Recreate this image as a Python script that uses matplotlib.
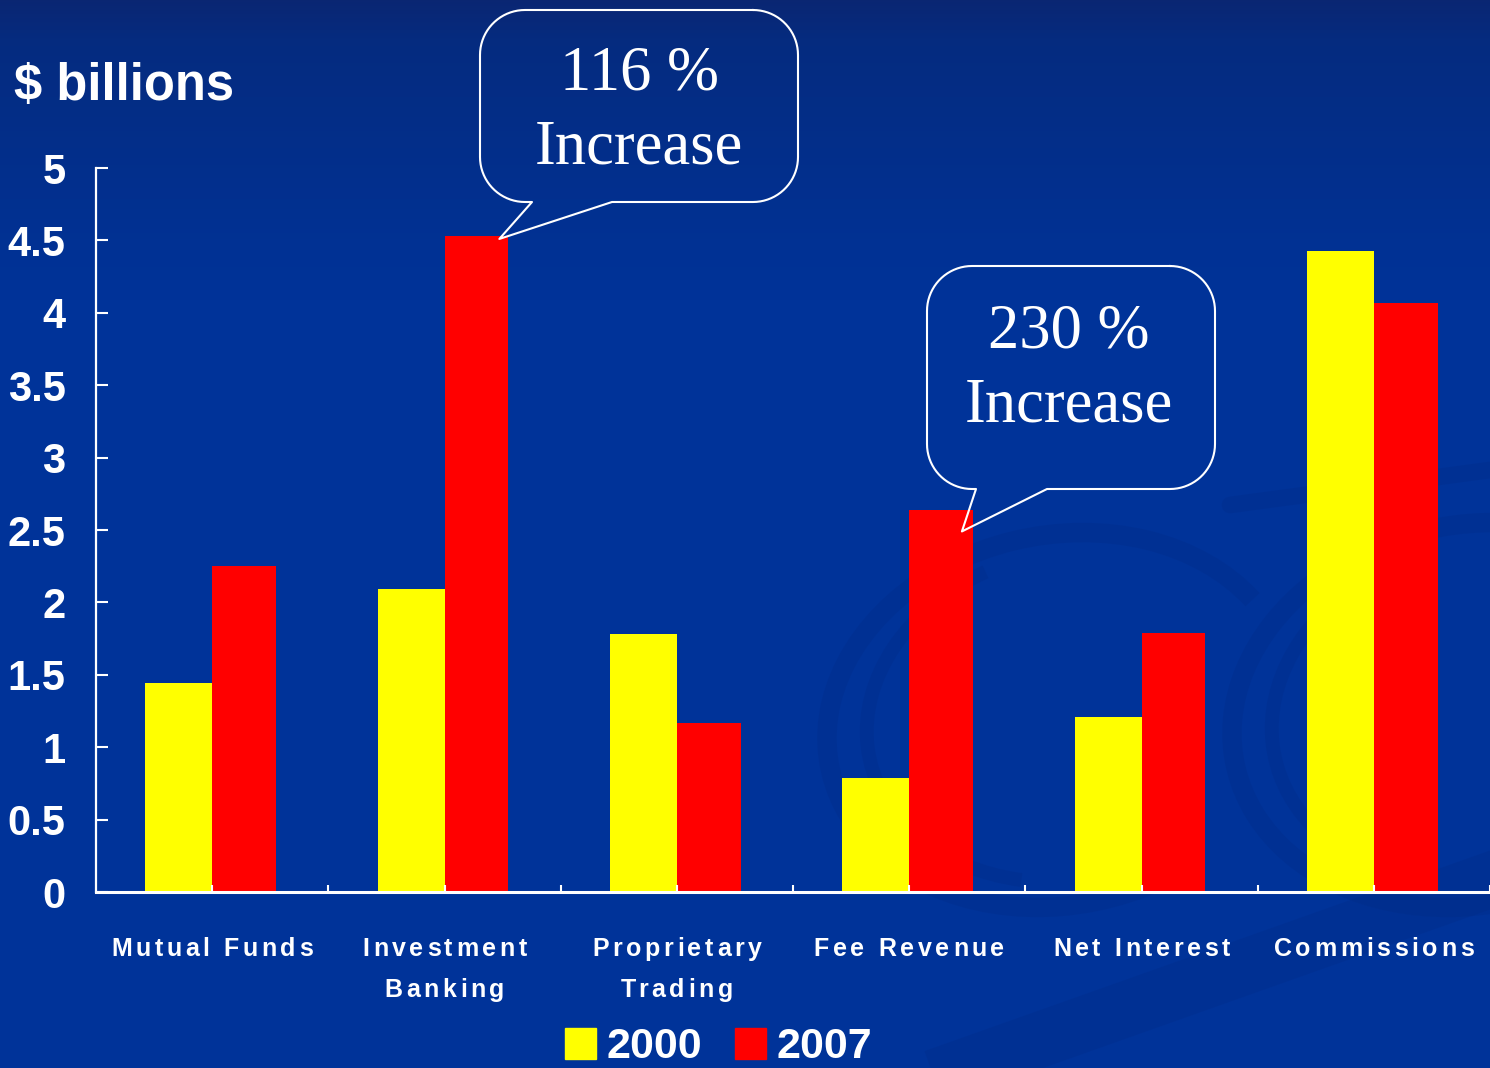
import numpy as np
import matplotlib.pyplot as plt
from matplotlib.patches import Arc, Rectangle
from matplotlib.font_manager import FontProperties
from matplotlib.transforms import IdentityTransform

# revenue by business line, $ billions
categories = ["Mutual Funds", "Investment\nBanking", "Proprietary\nTrading",
              "Fee Revenue", "Net Interest", "Commissions"]
rev_2000 = [1.44, 2.09, 1.78, 0.79, 1.21, 4.43]
rev_2007 = [2.25, 4.53, 1.17, 2.64, 1.79, 4.07]
years = ["2000", "2007"]
callout_text = [("116 %", "Increase"), ("230 %", "Increase")]

W, H = 1490, 1068
fig = plt.figure(figsize=(W / 100, H / 100), dpi=100)

# background: navy gradient + faint swirls
bg = fig.add_axes([0, 0, 1, 1], zorder=0)
bg.set_xlim(0, W)
bg.set_ylim(H, 0)
bg.axis("off")
rows = np.arange(H)
r = np.interp(rows, [0, 40, 300, H], [0.04, 0.02, 0.0, 0.0])
g = np.interp(rows, [0, 40, 300, H], [0.15, 0.17, 0.20, 0.20])
b = np.interp(rows, [0, 40, 300, H], [0.45, 0.50, 0.60, 0.60])
img = np.dstack([np.tile(c[:, None], (1, 2)) for c in (r, g, b)])
bg.imshow(img, extent=[0, W, H, 0], aspect="auto")

swirl = dict(color=(0.0, 0.15, 0.48), alpha=0.18)
bg.add_patch(Arc((1060, 720), 470, 370, angle=-12, theta1=60, theta2=340, lw=14, **swirl))
bg.add_patch(Arc((1075, 715), 420, 330, angle=-12, theta1=120, theta2=250, lw=10, **swirl))
bg.add_patch(Arc((1470, 715), 480, 380, angle=-12, theta1=70, theta2=320, lw=14, **swirl))
bg.add_patch(Arc((1485, 712), 430, 340, angle=-12, theta1=130, theta2=240, lw=10, **swirl))
bg.plot([1230, 1490], [505, 470], lw=12, solid_capstyle="round", **swirl)
bg.plot([960, 1490], [1068, 880], lw=40, **swirl)

# bars
step = 233.4
ax = fig.add_axes([96 / W, (H - 892) / H, (W - 96) / W, (892 - 168) / H], zorder=1)
ax.patch.set_alpha(0)
x = np.arange(len(categories))
b00 = ax.bar(x, rev_2000, width=-0.288, align="edge", color="#ffff00", label=years[0])
b07 = ax.bar(x, rev_2007, width=0.275, align="edge", color="#ff0000", label=years[1])
ax.set_xlim(-0.5, -0.5 + (W - 96) / step)
ax.set_ylim(0, 5)

for s in ["top", "right"]:
    ax.spines[s].set_visible(False)
ax.spines["left"].set_color("white")
ax.spines["left"].set_linewidth(1.6)
ax.spines["bottom"].set_color("white")
ax.spines["bottom"].set_linewidth(2.2)

yt = np.arange(0, 5.01, 0.5)
ax.set_yticks(yt)
ax.set_yticklabels(["%g" % v for v in yt], fontfamily="Liberation Sans", fontweight="bold")
ax.tick_params(axis="y", direction="in", length=8.6, width=1.5, colors="white",
               labelsize=30, pad=22)
ax.set_xticks(np.arange(0, 6, 0.5))
ax.tick_params(axis="x", direction="in", length=5, width=1.5, colors="white",
               labelbottom=False)

fig.text(14, H - 100, "$ billions", transform=IdentityTransform(), color="white",
         fontsize=36.5, fontweight="bold", family="Liberation Sans", va="baseline")

# category labels with wide letter spacing
renderer = fig.canvas.get_renderer()
lab_font = FontProperties(family="Liberation Sans", weight="bold", size=18)


def text_w(s):
    return renderer.get_text_width_height_descent(s, lab_font, ismath=False)[0]


def spaced(xc, yb, s, gap=3.6):
    total = text_w(s) + gap * (len(s) - 1)
    x0 = xc - total / 2
    for k, ch in enumerate(s):
        if ch == " ":
            continue
        xk = x0 + text_w(s[:k + 1]) - text_w(ch) + gap * k
        fig.text(xk, yb, ch, transform=IdentityTransform(), fontproperties=lab_font,
                 color="white", ha="left", va="baseline")


for i, name in enumerate(categories):
    xc = ax.transData.transform((i, 0))[0]
    for j, line in enumerate(name.split("\n")):
        spaced(xc, H - 956 - 41 * j, line)

# overlay in pixel coords (y down) for legend and callouts
ov = fig.add_axes([0, 0, 1, 1], zorder=3)
ov.set_xlim(0, W)
ov.set_ylim(H, 0)
ov.axis("off")

leg_font = dict(color="white", fontsize=31, fontweight="bold", family="Liberation Sans",
                va="baseline", ha="left")
for bars, lx, lab in [(b00, 565, years[0]), (b07, 735, years[1])]:
    ov.add_patch(Rectangle((lx, 1028), 31, 31, color=bars.patches[0].get_facecolor()))
    ov.text(lx + 42, 1058, lab, **leg_font)


def to_px(xd, yd):
    dx, dy = ax.transData.transform((xd, yd))
    return dx, H - dy


def bubble(left, top, right, bottom, tail_a, tail_b, tip, rad=45):
    pts = []

    def corner(cx, cy, a0, a1):
        a = np.radians(np.linspace(a0, a1, 20))
        pts.extend(zip(cx + rad * np.cos(a), cy + rad * np.sin(a)))

    corner(right - rad, top + rad, -90, 0)
    corner(right - rad, bottom - rad, 0, 90)
    pts.extend([(tail_b, bottom), tip, (tail_a, bottom)])
    corner(left + rad, bottom - rad, 90, 180)
    corner(left + rad, top + rad, 180, 270)
    pts.append(pts[0])
    px, py = zip(*pts)
    ov.plot(px, py, color="white", lw=1.5)


bubble(480, 10, 798, 202, 532, 612, to_px(1.236, 4.51))
bubble(927, 266, 1215, 489, 976, 1047, to_px(3.227, 2.49))

serif = dict(color="white", fontsize=45, family="Liberation Serif", ha="center", va="baseline")
for (l1, l2), cx, y1 in [(callout_text[0], 639, 89), (callout_text[1], 1069, 347)]:
    ov.text(cx, y1, l1, **serif)
    ov.text(cx, y1 + 75, l2, **serif)

fig.savefig("out.png", dpi=100)
